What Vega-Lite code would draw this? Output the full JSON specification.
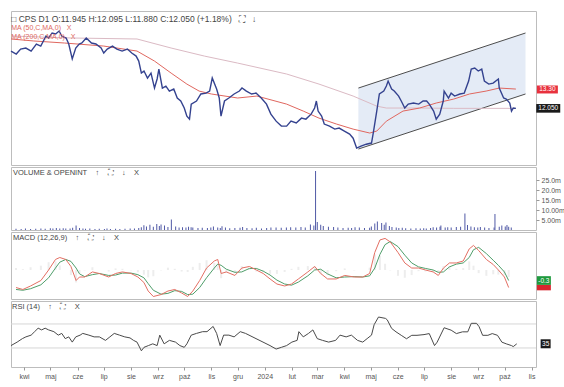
{
"$schema": "https://vega.github.io/schema/vega-lite/v6.json",
"padding": {"left": 7, "top": 10, "right": 4, "bottom": 3},
"background": "white",
"spacing": 2,
"bounds": "flush",
"config": {
 "view": {"stroke": "#bdbdbd", "strokeWidth": 1},
 "font": "Liberation Sans",
 "axis": {"labelFont": "Liberation Sans", "labelFontSize": 7, "labelColor": "#555555", "tickColor": "#999999", "tickSize": 3, "labelPadding": 2, "domain": false, "grid": false},
 "title": {"font": "Liberation Sans", "fontSize": 7.5, "fontWeight": "normal", "color": "#444444", "anchor": "start", "subtitleFont": "Liberation Sans", "subtitleFontSize": 7, "subtitleColor": "#e06a62", "subtitlePadding": 1}
},
"datasets": {
 "px": [
  {"date":"2023-03-17","c":16.26,"vol":0.6},{"date":"2023-03-23","c":16.01,"vol":0.5},{"date":"2023-03-28","c":16.43,"vol":0.7},
  {"date":"2023-04-03","c":16.52,"vol":0.5},{"date":"2023-04-09","c":16.26,"vol":0.6},{"date":"2023-04-15","c":16.87,"vol":0.8},
  {"date":"2023-04-20","c":16.69,"vol":0.6},{"date":"2023-04-26","c":17.59,"vol":0.9},{"date":"2023-04-29","c":17.41,"vol":0.7},
  {"date":"2023-05-03","c":17.87,"vol":1.0},{"date":"2023-05-07","c":17.78,"vol":0.8},{"date":"2023-05-11","c":18.06,"vol":0.9},
  {"date":"2023-05-14","c":17.59,"vol":0.7},{"date":"2023-05-19","c":17.41,"vol":0.8},{"date":"2023-05-22","c":16.87,"vol":1.1},
  {"date":"2023-05-26","c":15.60,"vol":2.2},{"date":"2023-05-30","c":16.52,"vol":1.0},{"date":"2023-06-03","c":16.87,"vol":0.7},
  {"date":"2023-06-06","c":16.96,"vol":0.6},{"date":"2023-06-11","c":17.41,"vol":0.8},{"date":"2023-06-17","c":16.96,"vol":0.5},
  {"date":"2023-06-22","c":16.87,"vol":0.6},{"date":"2023-06-28","c":16.52,"vol":0.5},{"date":"2023-07-01","c":16.09,"vol":0.7},
  {"date":"2023-07-05","c":16.43,"vol":0.5},{"date":"2023-07-11","c":16.69,"vol":0.6},{"date":"2023-07-16","c":16.43,"vol":0.5},
  {"date":"2023-07-22","c":16.26,"vol":0.6},{"date":"2023-07-28","c":16.43,"vol":0.7},{"date":"2023-08-02","c":16.09,"vol":0.8},
  {"date":"2023-08-07","c":15.84,"vol":1.0},{"date":"2023-08-10","c":15.43,"vol":1.4},{"date":"2023-08-13","c":14.49,"vol":2.4},
  {"date":"2023-08-16","c":14.65,"vol":1.8},{"date":"2023-08-20","c":14.12,"vol":2.6},{"date":"2023-08-24","c":14.49,"vol":1.6},
  {"date":"2023-08-28","c":13.40,"vol":3.0},{"date":"2023-08-31","c":14.05,"vol":2.0},{"date":"2023-09-02","c":14.80,"vol":2.8},
  {"date":"2023-09-06","c":13.40,"vol":2.2},{"date":"2023-09-10","c":13.54,"vol":1.5},{"date":"2023-09-14","c":13.19,"vol":5.2},
  {"date":"2023-09-19","c":13.33,"vol":1.8},{"date":"2023-09-23","c":12.72,"vol":1.2},{"date":"2023-09-27","c":12.52,"vol":1.4},
  {"date":"2023-10-01","c":12.07,"vol":1.3},{"date":"2023-10-04","c":11.57,"vol":1.6},{"date":"2023-10-07","c":11.39,"vol":1.4},
  {"date":"2023-10-09","c":12.32,"vol":1.2},{"date":"2023-10-15","c":12.52,"vol":1.0},{"date":"2023-10-20","c":12.99,"vol":1.1},
  {"date":"2023-10-26","c":13.05,"vol":1.0},{"date":"2023-10-30","c":13.19,"vol":1.3},{"date":"2023-11-02","c":14.12,"vol":1.8},
  {"date":"2023-11-07","c":13.33,"vol":1.2},{"date":"2023-11-10","c":12.72,"vol":1.0},{"date":"2023-11-12","c":11.57,"vol":1.9},
  {"date":"2023-11-16","c":12.52,"vol":1.2},{"date":"2023-11-21","c":12.72,"vol":0.9},{"date":"2023-11-27","c":12.99,"vol":1.0},
  {"date":"2023-12-03","c":13.19,"vol":1.1},{"date":"2023-12-06","c":13.40,"vol":1.5},{"date":"2023-12-11","c":13.19,"vol":1.0},
  {"date":"2023-12-17","c":12.99,"vol":0.9},{"date":"2023-12-22","c":13.05,"vol":1.1},{"date":"2023-12-28","c":12.72,"vol":0.8},
  {"date":"2024-01-03","c":12.32,"vol":1.0},{"date":"2024-01-08","c":11.69,"vol":1.2},{"date":"2024-01-14","c":11.27,"vol":1.3},
  {"date":"2024-01-20","c":10.98,"vol":1.1},{"date":"2024-01-26","c":10.98,"vol":1.2},{"date":"2024-01-31","c":11.27,"vol":1.4},
  {"date":"2024-02-06","c":11.16,"vol":1.2},{"date":"2024-02-12","c":11.45,"vol":1.5},{"date":"2024-02-17","c":11.39,"vol":1.3},
  {"date":"2024-02-23","c":11.69,"vol":2.8},{"date":"2024-02-27","c":12.07,"vol":2.2},{"date":"2024-02-29","c":12.52,"vol":29.5},
  {"date":"2024-03-02","c":11.88,"vol":4.0},{"date":"2024-03-06","c":11.57,"vol":2.6},{"date":"2024-03-09","c":11.10,"vol":2.0},
  {"date":"2024-03-15","c":10.98,"vol":1.6},{"date":"2024-03-21","c":10.81,"vol":1.5},{"date":"2024-03-26","c":10.87,"vol":1.2},
  {"date":"2024-04-01","c":10.70,"vol":1.0},{"date":"2024-04-07","c":10.53,"vol":1.1},{"date":"2024-04-11","c":10.31,"vol":1.0},
  {"date":"2024-04-15","c":9.79,"vol":1.4},{"date":"2024-04-20","c":9.89,"vol":1.2},{"date":"2024-04-26","c":9.99,"vol":1.0},
  {"date":"2024-05-02","c":10.05,"vol":1.1},{"date":"2024-05-04","c":10.59,"vol":1.8},{"date":"2024-05-08","c":11.88,"vol":3.2},
  {"date":"2024-05-11","c":12.99,"vol":4.2},{"date":"2024-05-16","c":13.19,"vol":3.5},{"date":"2024-05-19","c":13.54,"vol":2.6},
  {"date":"2024-05-21","c":13.90,"vol":3.8},{"date":"2024-05-25","c":13.33,"vol":2.0},{"date":"2024-05-28","c":13.19,"vol":1.5},
  {"date":"2024-06-02","c":12.85,"vol":1.2},{"date":"2024-06-05","c":12.52,"vol":1.0},{"date":"2024-06-09","c":12.07,"vol":1.1},
  {"date":"2024-06-13","c":12.32,"vol":0.9},{"date":"2024-06-19","c":12.39,"vol":0.8},{"date":"2024-06-25","c":12.32,"vol":0.9},
  {"date":"2024-06-30","c":12.52,"vol":0.8},{"date":"2024-07-04","c":12.52,"vol":0.9},{"date":"2024-07-07","c":12.32,"vol":0.8},
  {"date":"2024-07-12","c":11.88,"vol":1.0},{"date":"2024-07-15","c":11.39,"vol":1.4},{"date":"2024-07-19","c":11.69,"vol":1.2},
  {"date":"2024-07-23","c":12.52,"vol":1.6},{"date":"2024-07-24","c":13.19,"vol":2.2},{"date":"2024-07-29","c":12.72,"vol":1.3},
  {"date":"2024-08-01","c":13.05,"vol":1.4},{"date":"2024-08-05","c":12.85,"vol":1.2},{"date":"2024-08-11","c":12.99,"vol":1.5},
  {"date":"2024-08-16","c":13.05,"vol":1.6},{"date":"2024-08-21","c":13.90,"vol":8.3},{"date":"2024-08-24","c":14.80,"vol":2.5},
  {"date":"2024-08-28","c":14.88,"vol":1.8},{"date":"2024-09-01","c":14.65,"vol":1.4},{"date":"2024-09-05","c":14.80,"vol":1.2},
  {"date":"2024-09-08","c":13.90,"vol":1.5},{"date":"2024-09-13","c":13.68,"vol":1.2},{"date":"2024-09-18","c":13.75,"vol":1.0},
  {"date":"2024-09-24","c":14.05,"vol":1.3},{"date":"2024-09-25","c":13.40,"vol":8.0},{"date":"2024-09-30","c":12.72,"vol":1.6},
  {"date":"2024-10-03","c":12.65,"vol":2.2},{"date":"2024-10-07","c":12.39,"vol":1.8},{"date":"2024-10-09","c":11.88,"vol":2.5},
  {"date":"2024-10-11","c":12.07,"vol":1.6},{"date":"2024-10-14","c":12.05,"vol":1.2}
 ],
 "ma50": [
  {"date":"2023-03-17","v":17.32},{"date":"2023-04-12","v":17.14},{"date":"2023-05-17","v":16.96},{"date":"2023-07-01","v":16.69},
  {"date":"2023-08-08","v":16.26},{"date":"2023-08-28","v":15.43},{"date":"2023-09-16","v":14.49},{"date":"2023-10-04","v":13.68},
  {"date":"2023-10-18","v":13.19},{"date":"2023-11-01","v":12.99},{"date":"2023-12-01","v":12.72},{"date":"2023-12-23","v":12.85},
  {"date":"2024-01-26","v":12.32},{"date":"2024-02-14","v":11.88},{"date":"2024-03-03","v":11.45},{"date":"2024-03-23","v":11.10},
  {"date":"2024-04-11","v":10.81},{"date":"2024-04-30","v":10.59},{"date":"2024-05-08","v":10.70},{"date":"2024-05-19","v":11.27},
  {"date":"2024-06-07","v":11.88},{"date":"2024-06-26","v":12.07},{"date":"2024-07-15","v":12.39},{"date":"2024-08-04","v":12.65},
  {"date":"2024-08-22","v":12.99},{"date":"2024-09-10","v":13.19},{"date":"2024-09-25","v":13.40},{"date":"2024-10-14","v":13.33}
 ],
 "ma200": [
  {"date":"2023-03-17","v":17.59},{"date":"2023-05-25","v":17.41},{"date":"2023-08-08","v":17.32},{"date":"2023-09-16","v":16.52},
  {"date":"2023-10-24","v":15.84},{"date":"2023-12-01","v":15.27},{"date":"2024-01-26","v":14.42},{"date":"2024-03-03","v":13.68},
  {"date":"2024-04-11","v":12.85},{"date":"2024-05-08","v":12.19},{"date":"2024-05-19","v":12.07},{"date":"2024-06-26","v":12.07},
  {"date":"2024-08-04","v":12.05},{"date":"2024-09-10","v":12.05},{"date":"2024-10-14","v":12.05}
 ],
 "chan": [
  {"date":"2024-04-17","up":13.40,"lo":9.74},{"date":"2024-10-25","up":17.87,"lo":12.99}
 ],
 "macd": [
  {"date":"2023-03-17","m":-0.45,"s":-0.50,"h":0.05},{"date":"2023-03-25","m":-0.50,"s":-0.52,"h":0.02},
  {"date":"2023-04-03","m":-0.41,"s":-0.48,"h":0.07},{"date":"2023-04-15","m":-0.27,"s":-0.38,"h":0.11},
  {"date":"2023-04-24","m":0.00,"s":-0.20,"h":0.20},{"date":"2023-05-02","m":0.27,"s":0.05,"h":0.22},
  {"date":"2023-05-07","m":0.32,"s":0.20,"h":0.12},{"date":"2023-05-14","m":0.27,"s":0.27,"h":0.00},
  {"date":"2023-05-20","m":0.09,"s":0.22,"h":-0.13},{"date":"2023-05-26","m":-0.27,"s":0.05,"h":-0.32},
  {"date":"2023-05-30","m":-0.18,"s":-0.10,"h":-0.08},{"date":"2023-06-05","m":-0.18,"s":-0.17,"h":-0.01},
  {"date":"2023-06-14","m":-0.05,"s":-0.12,"h":0.07},{"date":"2023-06-22","m":-0.09,"s":-0.09,"h":0.00},
  {"date":"2023-07-03","m":-0.18,"s":-0.14,"h":-0.04},{"date":"2023-07-11","m":-0.09,"s":-0.13,"h":0.04},
  {"date":"2023-07-19","m":-0.05,"s":-0.08,"h":0.03},{"date":"2023-07-29","m":-0.09,"s":-0.08,"h":-0.01},
  {"date":"2023-08-06","m":-0.18,"s":-0.12,"h":-0.06},{"date":"2023-08-13","m":-0.32,"s":-0.20,"h":-0.12},
  {"date":"2023-08-18","m":-0.54,"s":-0.35,"h":-0.19},{"date":"2023-08-24","m":-0.68,"s":-0.52,"h":-0.16},
  {"date":"2023-09-02","m":-0.63,"s":-0.62,"h":-0.01},{"date":"2023-09-10","m":-0.54,"s":-0.60,"h":0.06},
  {"date":"2023-09-18","m":-0.50,"s":-0.53,"h":0.03},{"date":"2023-09-26","m":-0.59,"s":-0.55,"h":-0.04},
  {"date":"2023-10-03","m":-0.68,"s":-0.63,"h":-0.05},{"date":"2023-10-09","m":-0.54,"s":-0.62,"h":0.08},
  {"date":"2023-10-17","m":-0.27,"s":-0.45,"h":0.18},{"date":"2023-10-25","m":0.05,"s":-0.20,"h":0.25},
  {"date":"2023-11-03","m":0.23,"s":0.05,"h":0.18},{"date":"2023-11-07","m":0.27,"s":0.15,"h":0.12},
  {"date":"2023-11-11","m":-0.09,"s":0.12,"h":-0.21},{"date":"2023-11-17","m":-0.05,"s":0.02,"h":-0.07},
  {"date":"2023-11-27","m":-0.14,"s":-0.06,"h":-0.08},{"date":"2023-12-05","m":0.05,"s":-0.05,"h":0.10},
  {"date":"2023-12-14","m":0.09,"s":0.04,"h":0.05},{"date":"2023-12-22","m":0.00,"s":0.04,"h":-0.04},
  {"date":"2023-12-30","m":-0.09,"s":-0.03,"h":-0.06},{"date":"2024-01-07","m":-0.23,"s":-0.13,"h":-0.10},
  {"date":"2024-01-15","m":-0.36,"s":-0.26,"h":-0.10},{"date":"2024-01-24","m":-0.41,"s":-0.36,"h":-0.05},
  {"date":"2024-02-01","m":-0.36,"s":-0.39,"h":0.03},{"date":"2024-02-09","m":-0.23,"s":-0.31,"h":0.08},
  {"date":"2024-02-20","m":-0.05,"s":-0.15,"h":0.10},{"date":"2024-02-28","m":0.09,"s":0.00,"h":0.09},
  {"date":"2024-03-06","m":-0.09,"s":0.02,"h":-0.11},{"date":"2024-03-14","m":-0.23,"s":-0.10,"h":-0.13},
  {"date":"2024-03-24","m":-0.23,"s":-0.20,"h":-0.03},{"date":"2024-04-03","m":-0.14,"s":-0.18,"h":0.04},
  {"date":"2024-04-14","m":-0.18,"s":-0.17,"h":-0.01},{"date":"2024-04-24","m":-0.18,"s":-0.18,"h":0.00},
  {"date":"2024-05-02","m":-0.09,"s":-0.15,"h":0.06},{"date":"2024-05-08","m":0.45,"s":0.05,"h":0.40},
  {"date":"2024-05-14","m":0.77,"s":0.40,"h":0.37},{"date":"2024-05-20","m":0.81,"s":0.65,"h":0.16},
  {"date":"2024-05-26","m":0.72,"s":0.73,"h":-0.01},{"date":"2024-06-04","m":0.45,"s":0.60,"h":-0.15},
  {"date":"2024-06-12","m":0.18,"s":0.38,"h":-0.20},{"date":"2024-06-20","m":0.05,"s":0.18,"h":-0.13},
  {"date":"2024-06-28","m":0.05,"s":0.08,"h":-0.03},{"date":"2024-07-06","m":0.00,"s":0.04,"h":-0.04},
  {"date":"2024-07-15","m":-0.05,"s":0.00,"h":-0.05},{"date":"2024-07-21","m":-0.14,"s":-0.06,"h":-0.08},
  {"date":"2024-07-27","m":0.05,"s":-0.05,"h":0.10},{"date":"2024-08-03","m":0.18,"s":0.08,"h":0.10},
  {"date":"2024-08-11","m":0.18,"s":0.15,"h":0.03},{"date":"2024-08-19","m":0.23,"s":0.18,"h":0.05},
  {"date":"2024-08-26","m":0.54,"s":0.32,"h":0.22},{"date":"2024-08-31","m":0.63,"s":0.52,"h":0.11},
  {"date":"2024-09-06","m":0.50,"s":0.58,"h":-0.08},{"date":"2024-09-15","m":0.27,"s":0.42,"h":-0.15},
  {"date":"2024-09-23","m":0.14,"s":0.25,"h":-0.11},{"date":"2024-09-29","m":0.00,"s":0.12,"h":-0.12},
  {"date":"2024-10-06","m":-0.18,"s":-0.05,"h":-0.13},{"date":"2024-10-11","m":-0.45,"s":-0.27,"h":-0.18}
 ],
 "rsi": [
  {"date":"2023-03-17","r":34.0},{"date":"2023-03-24","r":39.8},{"date":"2023-03-30","r":45.6},{"date":"2023-04-03","r":48.5},
  {"date":"2023-04-09","r":51.4},{"date":"2023-04-13","r":57.2},{"date":"2023-04-17","r":63.0},{"date":"2023-04-21","r":60.1},
  {"date":"2023-04-25","r":63.0},{"date":"2023-04-29","r":60.1},{"date":"2023-05-05","r":57.2},{"date":"2023-05-10","r":51.4},
  {"date":"2023-05-14","r":54.3},{"date":"2023-05-18","r":45.6},{"date":"2023-05-22","r":48.5},{"date":"2023-05-26","r":39.8},
  {"date":"2023-05-30","r":48.5},{"date":"2023-06-04","r":51.4},{"date":"2023-06-07","r":54.3},{"date":"2023-06-14","r":51.4},
  {"date":"2023-06-20","r":48.5},{"date":"2023-06-26","r":48.5},{"date":"2023-07-03","r":42.7},{"date":"2023-07-08","r":48.5},
  {"date":"2023-07-13","r":54.3},{"date":"2023-07-19","r":51.4},{"date":"2023-07-25","r":48.5},{"date":"2023-07-31","r":46.8},
  {"date":"2023-08-04","r":42.7},{"date":"2023-08-08","r":39.8},{"date":"2023-08-13","r":25.3},{"date":"2023-08-16","r":31.1},
  {"date":"2023-08-21","r":34.0},{"date":"2023-08-26","r":36.9},{"date":"2023-08-31","r":34.0},{"date":"2023-09-03","r":51.4},
  {"date":"2023-09-08","r":36.9},{"date":"2023-09-14","r":42.7},{"date":"2023-09-21","r":39.8},{"date":"2023-09-26","r":34.0},
  {"date":"2023-10-01","r":31.1},{"date":"2023-10-04","r":36.9},{"date":"2023-10-09","r":51.4},{"date":"2023-10-15","r":54.3},
  {"date":"2023-10-22","r":57.2},{"date":"2023-10-27","r":57.2},{"date":"2023-11-03","r":65.9},{"date":"2023-11-07","r":54.3},
  {"date":"2023-11-11","r":34.0},{"date":"2023-11-15","r":51.4},{"date":"2023-11-21","r":51.4},{"date":"2023-11-27","r":48.5},
  {"date":"2023-12-04","r":57.2},{"date":"2023-12-10","r":54.3},{"date":"2023-12-14","r":51.4},{"date":"2023-12-22","r":45.6},
  {"date":"2023-12-30","r":39.8},{"date":"2024-01-07","r":34.0},{"date":"2024-01-14","r":28.2},{"date":"2024-01-20","r":31.1},
  {"date":"2024-01-26","r":34.0},{"date":"2024-02-01","r":39.8},{"date":"2024-02-07","r":42.7},{"date":"2024-02-09","r":57.2},
  {"date":"2024-02-14","r":48.5},{"date":"2024-02-20","r":54.3},{"date":"2024-02-25","r":60.1},{"date":"2024-03-01","r":45.6},
  {"date":"2024-03-07","r":42.7},{"date":"2024-03-14","r":39.8},{"date":"2024-03-22","r":42.7},{"date":"2024-03-27","r":51.4},
  {"date":"2024-04-03","r":48.5},{"date":"2024-04-09","r":51.4},{"date":"2024-04-16","r":42.7},{"date":"2024-04-22","r":39.8},
  {"date":"2024-04-27","r":45.6},{"date":"2024-05-02","r":51.4},{"date":"2024-05-05","r":68.8},{"date":"2024-05-10","r":81.6},
  {"date":"2024-05-18","r":79.3},{"date":"2024-05-20","r":76.9},{"date":"2024-05-25","r":62.6},{"date":"2024-05-30","r":56.9},
  {"date":"2024-06-05","r":51.1},{"date":"2024-06-11","r":45.4},{"date":"2024-06-17","r":51.1},{"date":"2024-06-23","r":51.1},
  {"date":"2024-07-01","r":52.3},{"date":"2024-07-07","r":54.0},{"date":"2024-07-13","r":34.0},{"date":"2024-07-16","r":39.7},
  {"date":"2024-07-24","r":63.7},{"date":"2024-08-01","r":59.7},{"date":"2024-08-07","r":54.0},{"date":"2024-08-14","r":56.9},
  {"date":"2024-08-20","r":56.9},{"date":"2024-08-24","r":71.1},{"date":"2024-08-30","r":71.1},{"date":"2024-09-02","r":65.4},
  {"date":"2024-09-06","r":51.1},{"date":"2024-09-12","r":51.1},{"date":"2024-09-17","r":54.0},{"date":"2024-09-23","r":51.1},
  {"date":"2024-09-28","r":39.7},{"date":"2024-10-03","r":36.9},{"date":"2024-10-09","r":34.0},{"date":"2024-10-11","r":32.3},
  {"date":"2024-10-15","r":36.9}
 ]
},
"vconcat": [
 {
  "width": 525, "height": 154,
  "title": {"text": "□ CPS D1 O:11.945 H:12.095 L:11.880 C:12.050 (+1.18%)\u00a0\u00a0\u00a0⛶\u00a0\u00a0\u00a0↓", "subtitle": ["MA (50,C,MA,0)\u00a0\u00a0\u00a0X", "MA (200,C,MA,0)\u00a0\u00a0\u00a0X"], "fontSize": 8.5, "offset": -29, "dx": 3},
  "layer": [
   {"data": {"name": "chan"}, "mark": {"type": "area", "color": "#e4ebf6"},
    "encoding": {
     "x": {"field": "date", "type": "temporal", "scale": {"type": "utc", "domain": [{"year": 2023, "month": 3, "date": 17, "utc": true}, {"year": 2024, "month": 11, "date": 6, "utc": true}]}, "axis": null},
     "y": {"field": "up", "type": "quantitative", "scale": {"type": "log", "domain": [8.96, 20.05], "nice": false}, "axis": {"orient": "right", "values": [10, 12.5, 15, 17.5], "format": ".2f", "title": null}},
     "y2": {"field": "lo"}}},
   {"data": {"name": "chan"}, "mark": {"type": "line", "color": "#4d4d4d", "strokeWidth": 1},
    "encoding": {"x": {"field": "date", "type": "temporal"}, "y": {"field": "up", "type": "quantitative", "axis": null}}},
   {"data": {"name": "chan"}, "mark": {"type": "line", "color": "#4d4d4d", "strokeWidth": 1},
    "encoding": {"x": {"field": "date", "type": "temporal"}, "y": {"field": "lo", "type": "quantitative", "axis": null}}},
   {"data": {"name": "ma200"}, "mark": {"type": "line", "color": "#dbbac4", "strokeWidth": 1},
    "encoding": {"x": {"field": "date", "type": "temporal"}, "y": {"field": "v", "type": "quantitative", "axis": null}}},
   {"data": {"name": "ma50"}, "mark": {"type": "line", "color": "#e0675f", "strokeWidth": 1},
    "encoding": {"x": {"field": "date", "type": "temporal"}, "y": {"field": "v", "type": "quantitative", "axis": null}}},
   {"data": {"name": "px"}, "mark": {"type": "line", "color": "#34428f", "strokeWidth": 1.4},
    "encoding": {"x": {"field": "date", "type": "temporal"}, "y": {"field": "c", "type": "quantitative", "axis": null}}},
   {"data": {"values": [{"v": 13.3, "lbl": "13.30"}]},
    "layer": [
     {"mark": {"type": "point", "shape": "M-1,-0.38L1,-0.38L1,0.38L-1,0.38Z", "filled": true, "color": "#e8313d", "opacity": 1, "size": 441}},
     {"mark": {"type": "text", "color": "white", "fontSize": 6.5, "align": "center", "baseline": "middle"}, "encoding": {"text": {"field": "lbl"}}}
    ],
    "encoding": {"x": {"datum": {"year": 2024, "month": 11, "date": 19, "utc": true}, "type": "temporal"}, "y": {"field": "v", "type": "quantitative", "axis": null}}},
   {"data": {"values": [{"v": 12.05, "lbl": "12.050"}]},
    "layer": [
     {"mark": {"type": "point", "shape": "M-1,-0.36L1,-0.36L1,0.36L-1,0.36Z", "filled": true, "color": "#1a1a1a", "opacity": 1, "size": 576}},
     {"mark": {"type": "text", "color": "white", "fontSize": 6.5, "align": "center", "baseline": "middle"}, "encoding": {"text": {"field": "lbl"}}}
    ],
    "encoding": {"x": {"datum": {"year": 2024, "month": 11, "date": 20, "utc": true}, "type": "temporal"}, "y": {"field": "v", "type": "quantitative", "axis": null}}}
  ]
 },
 {
  "width": 525, "height": 63,
  "title": {"text": "VOLUME & OPENINT\u00a0\u00a0\u00a0\u00a0↑\u00a0\u00a0\u00a0\u00a0⛶\u00a0\u00a0\u00a0\u00a0↓\u00a0\u00a0\u00a0\u00a0X", "offset": -9, "dx": 2},
  "data": {"name": "px"},
  "mark": {"type": "bar", "color": "#5059a6", "width": 1},
  "encoding": {
   "x": {"field": "date", "type": "temporal", "scale": {"type": "utc", "domain": [{"year": 2023, "month": 3, "date": 17, "utc": true}, {"year": 2024, "month": 11, "date": 6, "utc": true}]}, "axis": null},
   "y": {"field": "vol", "type": "quantitative", "scale": {"domain": [0, 31.5], "nice": false}, "axis": {"orient": "right", "values": [5, 10, 15, 20, 25], "labelExpr": "datum.value < 15 ? format(datum.value, '.2f') + 'm' : format(datum.value, '.1f') + 'm'", "title": null}}
  }
 },
 {
  "width": 525, "height": 67,
  "title": {"text": "MACD (12,26,9)\u00a0\u00a0\u00a0\u00a0↑\u00a0\u00a0\u00a0\u00a0⛶\u00a0\u00a0\u00a0\u00a0↓\u00a0\u00a0\u00a0\u00a0X", "offset": -9, "dx": 2},
  "layer": [
   {"data": {"name": "macd"}, "mark": {"type": "bar", "color": "#cccccc", "opacity": 0.35, "width": 2},
    "encoding": {
     "x": {"field": "date", "type": "temporal", "scale": {"type": "utc", "domain": [{"year": 2023, "month": 3, "date": 17, "utc": true}, {"year": 2024, "month": 11, "date": 6, "utc": true}]}, "axis": null},
     "y": {"field": "h", "type": "quantitative", "scale": {"domain": [-0.744, 0.974], "nice": false, "zero": false}, "axis": {"orient": "right", "values": [0, 0.5], "format": ".1f", "title": null}}}},
   {"data": {"name": "macd"}, "mark": {"type": "line", "color": "#4f9e6a", "strokeWidth": 1},
    "encoding": {"x": {"field": "date", "type": "temporal"}, "y": {"field": "s", "type": "quantitative", "axis": null}}},
   {"data": {"name": "macd"}, "mark": {"type": "line", "color": "#e46f63", "strokeWidth": 1},
    "encoding": {"x": {"field": "date", "type": "temporal"}, "y": {"field": "m", "type": "quantitative", "axis": null}}},
   {"data": {"values": [{"v": -0.45, "lbl": "-0.4"}]},
    "layer": [
     {"mark": {"type": "point", "shape": "M-1,-0.4L1,-0.4L1,0.4L-1,0.4Z", "filled": true, "color": "#d8262e", "opacity": 1, "size": 196}}
    ],
    "encoding": {"x": {"datum": {"year": 2024, "month": 11, "date": 21, "utc": true}, "type": "temporal"}, "y": {"field": "v", "type": "quantitative", "axis": null}}},
   {"data": {"values": [{"v": -0.27, "lbl": "-0.3"}]},
    "layer": [
     {"mark": {"type": "point", "shape": "M-1,-0.62L1,-0.62L1,0.62L-1,0.62Z", "filled": true, "color": "#1f9a3e", "opacity": 1, "size": 196}},
     {"mark": {"type": "text", "color": "white", "fontSize": 6.5, "align": "center", "baseline": "middle"}, "encoding": {"text": {"field": "lbl"}}}
    ],
    "encoding": {"x": {"datum": {"year": 2024, "month": 11, "date": 21, "utc": true}, "type": "temporal"}, "y": {"field": "v", "type": "quantitative", "axis": null}}}
  ]
 },
 {
  "width": 525, "height": 66,
  "title": {"text": "RSI (14)\u00a0\u00a0\u00a0\u00a0↑\u00a0\u00a0\u00a0\u00a0⛶\u00a0\u00a0\u00a0\u00a0X", "offset": -9, "dx": 3},
  "layer": [
   {"data": {"values": [{"lvl": 70}, {"lvl": 30}]}, "mark": {"type": "rule", "color": "#d6d6d6", "strokeWidth": 1},
    "encoding": {"y": {"field": "lvl", "type": "quantitative", "scale": {"domain": [-1.7, 108.3], "nice": false, "zero": false}, "axis": {"orient": "right", "values": [70], "title": null}}}},
   {"data": {"name": "rsi"}, "mark": {"type": "line", "color": "#4a4a4a", "strokeWidth": 1},
    "encoding": {
     "x": {"field": "date", "type": "temporal", "scale": {"type": "utc", "domain": [{"year": 2023, "month": 3, "date": 17, "utc": true}, {"year": 2024, "month": 11, "date": 6, "utc": true}]},
      "axis": {"orient": "bottom", "tickCount": "month", "labelExpr": "utcmonth(datum.value) == 0 ? utcFormat(datum.value, '%Y') : ['sty','lut','mar','kwi','maj','cze','lip','sie','wrz','paź','lis','gru'][utcmonth(datum.value)]", "labelOverlap": false, "labelFlush": false, "title": null}},
     "y": {"field": "r", "type": "quantitative", "axis": null}}},
   {"data": {"values": [{"v": 37, "lbl": "35"}]},
    "layer": [
     {"mark": {"type": "point", "shape": "M-1,-0.9L1,-0.9L1,0.9L-1,0.9Z", "filled": true, "color": "#1a1a1a", "opacity": 1, "size": 100}},
     {"mark": {"type": "text", "color": "white", "fontSize": 6.5, "align": "center", "baseline": "middle"}, "encoding": {"text": {"field": "lbl"}}}
    ],
    "encoding": {"x": {"datum": {"year": 2024, "month": 11, "date": 17, "utc": true}, "type": "temporal"}, "y": {"field": "v", "type": "quantitative", "axis": null}}}
  ]
 }
]
}
